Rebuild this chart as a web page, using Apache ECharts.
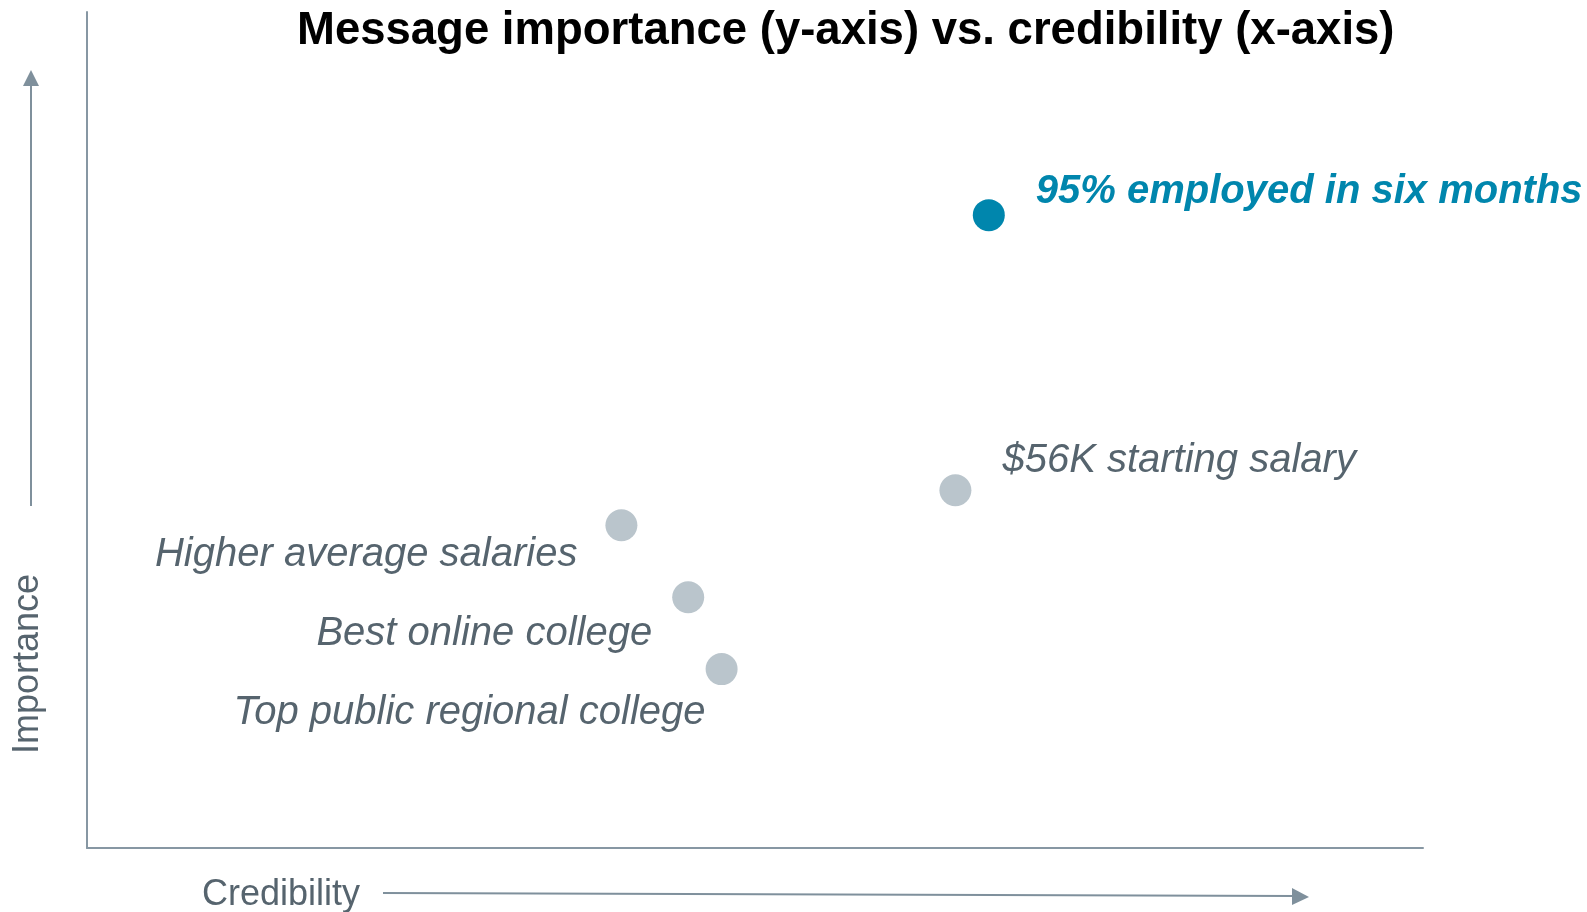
<!DOCTYPE html>
<html>
<head>
<meta charset="utf-8">
<script src="https://cdn.jsdelivr.net/npm/echarts@6/dist/echarts.min.js"></script>
<style>
  html, body { margin: 0; padding: 0; background: #fff; }
  #chart { width: 1587px; height: 912px; }
</style>
</head>
<body>
<div id="chart"></div>
<script>
// messages plotted by credibility (x) and importance (y), 0-100 scale
const messages = [
  "95% employed in six months",
  "$56K starting salary",
  "Higher average salaries",
  "Best online college",
  "Top public regional college"
];
const credibility = [67.5, 65, 40, 45, 47.5];
const importance = [75.7, 42.8, 38.6, 30, 21.4];
const highlighted = [true, false, false, false, false];

// label placement (position + pixel offset) for each message
const labelPos = ["right", "right", "left", "left", "left"];
const labelOffset = [[31, -23], [31, -29], [-28, 30], [-20, 37], [0, 44]];

const FONT = "'Liberation Sans', Arial, sans-serif";
const AXIS = "#8797a3";
const ARROW = "#7f909c";
const TEXT_GRAY = "#56646e";
const DOT_GRAY = "#bac5cc";
const BLUE = "#0086ad";

const chart = echarts.init(document.getElementById("chart"));

const points = messages.map((name, i) => ({
  name: name,
  value: [credibility[i], importance[i]],
  itemStyle: { color: highlighted[i] ? BLUE : DOT_GRAY, opacity: 1 },
  label: {
    show: true,
    formatter: "{b}",
    position: labelPos[i],
    distance: 0,
    offset: labelOffset[i],
    fontFamily: FONT,
    fontSize: 40,
    fontStyle: "italic",
    fontWeight: highlighted[i] ? "bold" : "normal",
    color: highlighted[i] ? BLUE : TEXT_GRAY,
    opacity: 1
  }
}));

chart.setOption({
  animation: false,
  title: {
    text: "Message importance (y-axis) vs. credibility (x-axis)",
    left: 292,
    top: 3,
    textStyle: { fontFamily: FONT, fontSize: 45.5, fontWeight: "bold", color: "#000" }
  },
  grid: { left: 87, right: 164, top: 12, bottom: 64 },
  xAxis: {
    type: "value", min: 0, max: 100,
    axisLine: { show: true, lineStyle: { color: AXIS, width: 2 } },
    axisTick: { show: false }, axisLabel: { show: false }, splitLine: { show: false }
  },
  yAxis: {
    type: "value", min: 0, max: 100,
    axisLine: { show: true, lineStyle: { color: AXIS, width: 2 } },
    axisTick: { show: false }, axisLabel: { show: false }, splitLine: { show: false }
  },
  series: [{
    type: "scatter",
    symbolSize: 32,
    itemStyle: { opacity: 1 },
    emphasis: { disabled: true },
    data: points
  }],
  graphic: [
    // importance arrow
    { type: "line", shape: { x1: 31, y1: 506, x2: 31, y2: 84 }, style: { stroke: ARROW, lineWidth: 2 } },
    { type: "polygon", shape: { points: [[31, 70], [23, 86], [39, 86]] }, style: { fill: ARROW } },
    {
      type: "text", x: 28, y: 664, rotation: Math.PI / 2,
      style: { text: "Importance", fontFamily: FONT, fontSize: 36, fill: TEXT_GRAY, align: "center", verticalAlign: "middle" }
    },
    // credibility arrow
    { type: "line", shape: { x1: 383, y1: 893, x2: 1294, y2: 896 }, style: { stroke: ARROW, lineWidth: 2 } },
    { type: "polygon", shape: { points: [[1309, 897], [1292, 888], [1292, 905]] }, style: { fill: ARROW } },
    {
      type: "text", x: 202, y: 895,
      style: { text: "Credibility", fontFamily: FONT, fontSize: 36, fill: TEXT_GRAY, align: "left", verticalAlign: "middle" }
    }
  ]
});
</script>
</body>
</html>
